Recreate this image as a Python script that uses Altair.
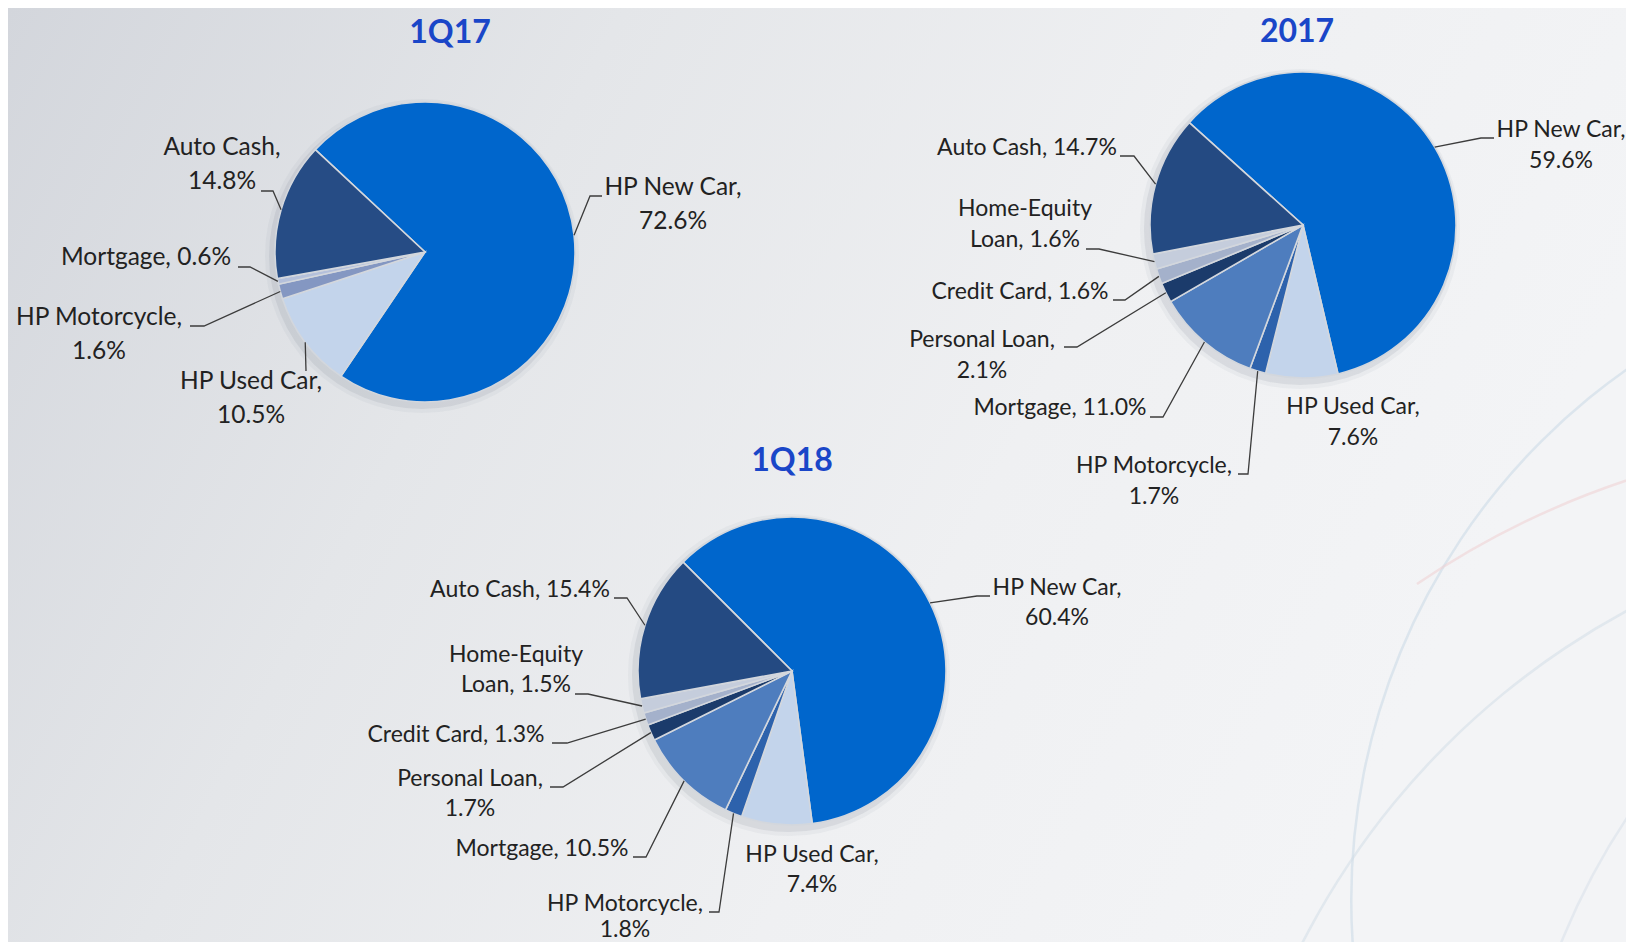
import math
import altair as alt
import pandas as pd

# ---------------- data ----------------
titles = ["1Q17", "2017", "1Q18"]

cats_1q17 = ["HP New Car", "HP Used Car", "HP Motorcycle", "Mortgage", "Auto Cash"]
vals_1q17 = [72.6, 10.5, 1.6, 0.6, 14.8]

cats_2017 = ["HP New Car", "HP Used Car", "HP Motorcycle", "Mortgage",
             "Personal Loan", "Credit Card", "Home-Equity Loan", "Auto Cash"]
vals_2017 = [59.6, 7.6, 1.7, 11.0, 2.1, 1.6, 1.6, 14.7]

cats_1q18 = ["HP New Car", "HP Used Car", "HP Motorcycle", "Mortgage",
             "Personal Loan", "Credit Card", "Home-Equity Loan", "Auto Cash"]
vals_1q18 = [60.4, 7.4, 1.8, 10.5, 1.7, 1.3, 1.5, 15.4]

# ---------------- styles ----------------
colors_1q17 = ["#0066CC", "#C3D4EB", "#8497C2", "#B4C0DB", "#264C85"]
colors_8 = ["#0066CC", "#C3D4EB", "#2D62AC", "#4E7DBE", "#1B3B6B", "#A4B1CB", "#C5CDDC", "#244A82"]

W, H = 1618, 934
OFF = 8  # page margin
FONT = "Lato"
TXT = "#222222"

# ---------------- layout (page pixel coords) ----------------
pies = [
    dict(title=titles[0], cats=cats_1q17, vals=vals_1q17, colors=colors_1q17,
         cx=425, cy=252, r=150, start=313, tx=450, ty=33, lh=34, fs=24.5),
    dict(title=titles[1], cats=cats_2017, vals=vals_2017, colors=colors_8,
         cx=1303, cy=225, r=153, start=312, tx=1297, ty=32, lh=31, fs=23),
    dict(title=titles[2], cats=cats_1q18, vals=vals_1q18, colors=colors_8,
         cx=792, cy=671, r=154, start=315, tx=792, ty=461, lh=30, fs=23),
]

# category -> (text x, first line y, template, leader start, elbow x)
labels = [
    {
        "HP New Car": (673, 188, "HP New Car,\n{v}%", (602, 196), 590),
        "HP Used Car": (251, 382, "HP Used Car,\n{v}%", (306, 371), None),
        "HP Motorcycle": (99, 318, "HP Motorcycle,\n{v}%", (190, 326), 204),
        "Mortgage": (146, 258, "Mortgage,  {v}%", (238, 267), 250),
        "Auto Cash": (222, 148, "Auto Cash,\n{v}%", (261, 191), 273),
    },
    {
        "HP New Car": (1561, 130, "HP New Car,\n{v}%", (1494, 138), 1481),
        "HP Used Car": (1353, 407, "HP Used Car,\n{v}%", None, None),
        "HP Motorcycle": (1154, 466, "HP Motorcycle,\n{v}%", (1238, 474), 1248),
        "Mortgage": (1060, 408, "Mortgage, {v}%", (1150, 417), 1163),
        "Personal Loan": (982, 340, "Personal Loan,\n{v}%", (1064, 347), 1077),
        "Credit Card": (1020, 292, "Credit Card, {v}%", (1113, 300), 1125),
        "Home-Equity Loan": (1025, 209, "Home-Equity\nLoan, {v}%", (1086, 249), 1099),
        "Auto Cash": (1027, 148, "Auto Cash, {v}%", (1120, 156), 1134),
    },
    {
        "HP New Car": (1057, 588, "HP New Car,\n{v}%", (990, 596), 977),
        "HP Used Car": (812, 855, "HP Used Car,\n{v}%", None, None),
        "HP Motorcycle": (625, 904, "HP Motorcycle,\n{v}%", (709, 912), 719),
        "Mortgage": (542, 849, "Mortgage, {v}%", (633, 857), 646),
        "Personal Loan": (470, 779, "Personal Loan,\n{v}%", (550, 787), 563),
        "Credit Card": (456, 735, "Credit Card, {v}%", (552, 743), 567),
        "Home-Equity Loan": (516, 655, "Home-Equity\nLoan, {v}%", (575, 694), 588),
        "Auto Cash": (520, 590, "Auto Cash, {v}%", (614, 598), 627),
    },
]
# line spacing override for the bottom label so it stays inside the frame
tight = {(2, "HP Motorcycle"): 26}

xs = alt.Scale(domain=[0, W], range=[0, W], nice=False, zero=False)
ys = alt.Scale(domain=[0, H], range=[0, H], nice=False, zero=False)

# ---------------- background ----------------
bg = alt.Chart(pd.DataFrame({"a": [0]})).mark_rect(
    color=alt.LinearGradient(
        gradient="linear", x1=0, x2=1, y1=0, y2=0.3,
        stops=[alt.GradientStop(offset=0, color="#D3D6DC"),
               alt.GradientStop(offset=0.35, color="#E4E6E9"),
               alt.GradientStop(offset=0.7, color="#EFF0F2"),
               alt.GradientStop(offset=1, color="#F3F4F6")])
).encode(x=alt.value(0), x2=alt.value(W), y=alt.value(0), y2=alt.value(H))

layers = [bg]

# faint decorative swooshes on the right
for (cx, cy, r, col, op, t1, t2) in [
    (2000, 900, 650, "#C9D9E6", 0.55, 0, 2 * math.pi),
    (2000, 1300, 785, "#D0DCE6", 0.5, 0, 2 * math.pi),
    (2200, 1200, 690, "#D2DCE6", 0.45, 0, 2 * math.pi),
    (1900, 1300, 865, "#EFCFD1", 0.55, math.radians(326), math.radians(350)),
]:
    layers.append(
        alt.Chart(pd.DataFrame({"a": [0]})).mark_arc(
            radius=r, radius2=r - 2.5, color=col, opacity=op, theta=t1, theta2=t2
        ).encode(x=alt.value(cx - OFF), y=alt.value(cy - OFF))
    )

line_rows = []
title_rows = []
text_layers = []
lid = 0
for pi, (p, lab) in enumerate(zip(pies, labels)):
    cx, cy, r = p["cx"], p["cy"], p["r"]
    for grow, op in [(7, 0.06), (3, 0.12)]:
        layers.append(
            alt.Chart(pd.DataFrame({"a": [0]})).mark_arc(
                radius=r + grow, color="#6E7682", opacity=op
            ).encode(x=alt.value(cx - OFF - 3), y=alt.value(cy - OFF + 4))
        )
    df = pd.DataFrame({"category": p["cats"], "value": p["vals"],
                       "idx": list(range(len(p["cats"])))})
    s = math.radians(p["start"])
    layers.append(
        alt.Chart(df).mark_arc(radius=r, stroke="#D3D7DD", strokeWidth=1.6).encode(
            theta=alt.Theta("value:Q", stack=True,
                            scale=alt.Scale(range=[s, s + 2 * math.pi])),
            color=alt.Color("category:N",
                            scale=alt.Scale(domain=p["cats"], range=p["colors"]),
                            legend=None),
            order=alt.Order("idx:Q"),
            x=alt.value(cx - OFF),
            y=alt.value(cy - OFF),
        )
    )
    title_rows.append({"t": p["title"], "x": p["tx"] - OFF, "y": p["ty"] - OFF})

    text_rows = []
    total = sum(p["vals"])
    cum = 0.0
    for cat, v in zip(p["cats"], p["vals"]):
        mid = (cum + v / 2) / total
        cum += v
        tx, ty, tmpl, start, elbow = lab[cat]
        lh = tight.get((pi, cat), p["lh"])
        lines = tmpl.format(v=f"{v:.1f}").split("\n")
        for i, ln in enumerate(lines):
            text_rows.append({"t": ln, "x": tx - OFF, "y": ty + i * lh - OFF})
        if start is not None:
            ang = math.radians(p["start"]) + mid * 2 * math.pi
            ax = cx + r * math.sin(ang)
            ay = cy - r * math.cos(ang)
            pts = [start]
            if elbow is not None:
                pts.append((elbow, start[1]))
            pts.append((ax, ay))
            for k, (px, py) in enumerate(pts):
                line_rows.append({"id": lid, "k": k, "x": px - OFF, "y": py - OFF})
            lid += 1
    text_layers.append(
        alt.Chart(pd.DataFrame(text_rows)).mark_text(
            font=FONT, fontSize=p["fs"], color=TXT, align="center", baseline="middle"
        ).encode(
            x=alt.X("x:Q", scale=xs, axis=None),
            y=alt.Y("y:Q", scale=ys, axis=None),
            text="t:N",
        )
    )

leaders = alt.Chart(pd.DataFrame(line_rows)).mark_line(
    color="#3C3C3C", strokeWidth=1.3
).encode(
    x=alt.X("x:Q", scale=xs, axis=None),
    y=alt.Y("y:Q", scale=ys, axis=None),
    detail="id:N",
    order="k:Q",
)

title_text = alt.Chart(pd.DataFrame(title_rows)).mark_text(
    font=FONT, fontSize=32, fontWeight="bold", color="#1A46C8",
    align="center", baseline="middle"
).encode(
    x=alt.X("x:Q", scale=xs, axis=None),
    y=alt.Y("y:Q", scale=ys, axis=None),
    text="t:N",
)

layers += [leaders] + text_layers + [title_text]

chart = alt.layer(*layers).resolve_scale(
    theta="independent", color="independent"
).properties(
    width=W, height=H, padding=0,
    autosize=alt.AutoSizeParams(type="none"),
).configure_view(strokeWidth=0)

chart.save("out.html", embed_options={"renderer": "svg", "actions": False})
